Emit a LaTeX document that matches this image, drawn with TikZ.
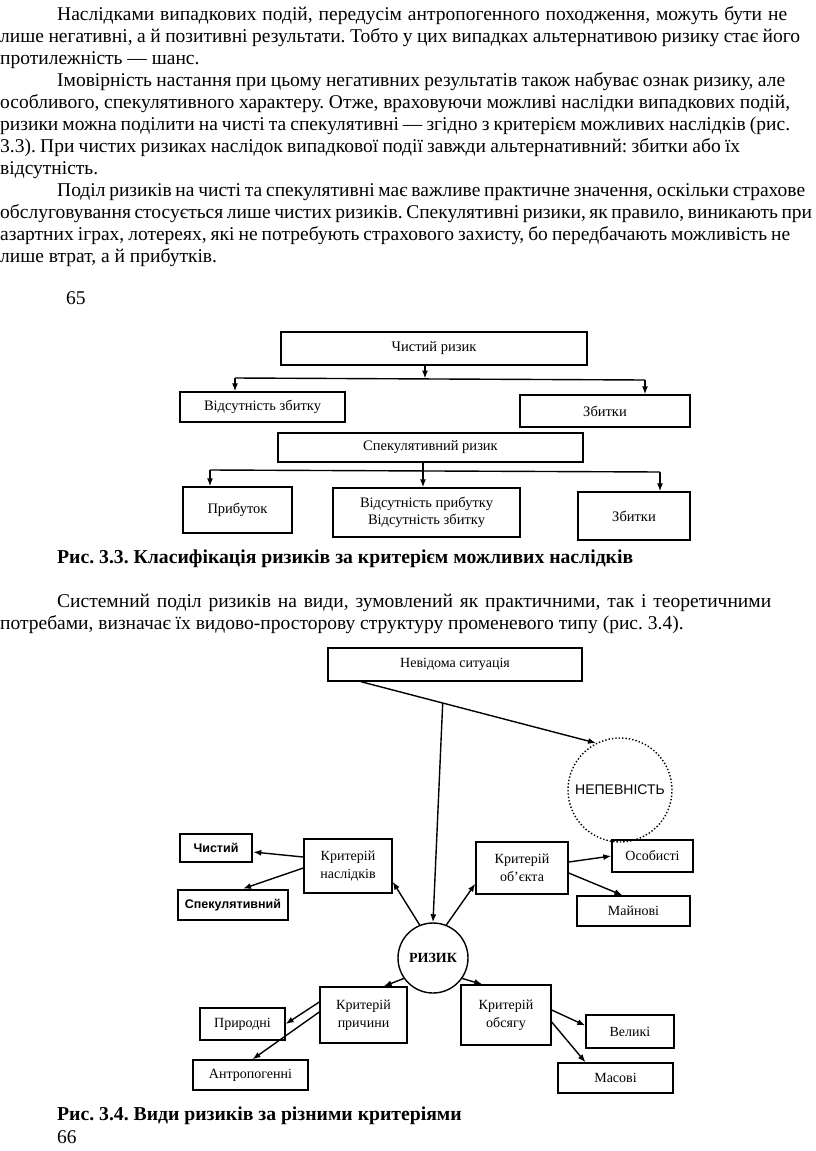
\documentclass[tikz,border=0pt]{standalone}
\usepackage{fontspec}
\setmainfont{Liberation Serif}
\newfontfamily\sansf{Liberation Sans}
\usetikzlibrary{arrows.meta,calc}
\frenchspacing
\newcommand\jline[4]{\node[body] (#1) at (#2) {\makebox[#3pt][s]{#4}};}
\newcommand\nline[3]{\node[body] (#1) at (#2) {#3};}
\begin{document}
\begin{tikzpicture}[x=1pt,y=-1pt,
  body/.style={anchor=base west, inner sep=0pt, font=\fontsize{19.5}{22}\selectfont},
  bodyb/.style={anchor=base west, inner sep=0pt, font=\fontsize{19.7}{22}\selectfont\bfseries},
  boxa/.style={draw, line width=1.4pt, inner sep=0pt, align=center, font=\fontsize{14.5}{17}\selectfont},
  boxb/.style={draw, line width=1.4pt, inner sep=0pt, align=center, font=\fontsize{14}{17.5}\selectfont},
  boxc/.style={draw, line width=2.6pt, inner sep=0pt, font=\sansf\bfseries\fontsize{12.5}{14}\selectfont},
  arr/.style={-{Latex[length=8pt,width=6pt]}, line width=1.4pt},
  ln/.style={line width=1.4pt}]
\useasboundingbox (0,0) rectangle (816,1151);

% ---- text ----
\jline{l1}{57,20}{730}{Наслідками випадкових подій, передусім антропогенного походження, можуть бути не}
\jline{l2}{0,42}{800}{лише негативні, а й позитивні результати. Тобто у цих випадках альтернативою ризику стає його}
\nline{l3}{0,64}{протилежність — шанс.}
\jline{l4}{57,86}{728}{Імовірність настання при цьому негативних результатів також набуває ознак ризику, але}
\jline{l5}{0,108}{790}{особливого, спекулятивного характеру. Отже, враховуючи можливі наслідки випадкових подій,}
\jline{l6}{0,130}{790}{ризики можна поділити на чисті та спекулятивні — згідно з критерієм можливих наслідків (рис.}
\jline{l7}{0,152}{740}{3.3). При чистих ризиках наслідок випадкової події завжди альтернативний: збитки або їх}
\nline{l8}{0,174}{відсутність.}
\jline{l9}{57,196}{748}{Поділ ризиків на чисті та спекулятивні має важливе практичне значення, оскільки страхове}
\jline{l10}{0,218}{812}{обслуговування стосується лише чистих ризиків. Спекулятивні ризики, як правило, виникають при}
\jline{l11}{0,240}{790}{азартних іграх, лотереях, які не потребують страхового захисту, бо передбачають можливість не}
\nline{l12}{0,262}{лише втрат, а й прибутків.}
\nline{p65}{66,304}{65}

% ---- fig 3.3 ----
\node[boxa, minimum width=306pt, minimum height=33pt] (ch) at (434,348.5) {Чистий ризик};
\node[boxa, minimum width=165pt, minimum height=30pt] (vz) at (262.5,407) {Відсутність збитку};
\node[boxa, minimum width=170pt, minimum height=32pt] (zb1) at (605,411) {Збитки};
\node[boxa, minimum width=305pt, minimum height=29pt] (sp) at (430.5,447.5) {Спекулятивний ризик};
\node[boxa, minimum width=109pt, minimum height=46pt] (pr) at (237.5,510) {Прибуток};
\node[boxa, minimum width=187pt, minimum height=49pt] (mid) at (426.5,512.5) {Відсутність прибутку\\Відсутність збитку};
\node[boxa, minimum width=112pt, minimum height=48pt] (zb2) at (634,516) {Збитки};

\coordinate (b1) at (425,378.5);
\coordinate (b1l) at (235,378);
\coordinate (b1r) at (645,380);
\draw[arr] (b1 |- ch.south) -- (b1);
\draw[ln] (b1l) -- (b1r);
\draw[arr] (b1l) -- (b1l |- vz.north);
\draw[arr] (b1r) -- (b1r |- zb1.north);

\coordinate (b2) at (423,471);
\coordinate (b2l) at (210,470);
\coordinate (b2r) at (660,472);
\draw[arr] (b2 |- sp.south) -- (b2 |- mid.north);
\draw[ln] (b2l) -- (b2r);
\draw[arr] (b2l) -- (b2l |- pr.north);
\draw[arr] (b2r) -- (b2r |- zb2.north);

\node[bodyb] (cap1) at (57,563) {Рис. 3.3. Класифікація ризиків за критерієм можливих наслідків};
\jline{q1}{57,607}{714}{Системний поділ ризиків на види, зумовлений як практичними, так і теоретичними}
\nline{q2}{0,629}{потребами, визначає їх видово-просторову структуру променевого типу (рис. 3.4).}

% ---- fig 3.4 ----
\node[boxb, minimum width=254pt, minimum height=33pt] (nev) at (455,664.5) {Невідома ситуація};
\node[circle, draw, dotted, line width=1.4pt, minimum size=104pt, inner sep=0pt, font=\sansf\fontsize{14}{16}\selectfont] (nep) at (620,790) {НЕПЕВНІСТЬ};
\node[circle, draw, line width=1.4pt, minimum size=70pt, inner sep=0pt, font=\bfseries\fontsize{14}{16}\selectfont] (ryz) at (433,958) {РИЗИК};

\node[boxb, minimum width=88pt, minimum height=54pt] (kn) at (348,866) {Критерій\\наслідків};
\node[boxc, minimum width=72pt, minimum height=28pt] (chy) at (216,848) {Чистий};
\node[boxc, minimum width=110pt, minimum height=30pt] (spk) at (233,905) {Спекулятивний};
\node[boxb, minimum width=92pt, minimum height=52pt] (ko) at (522,868) {Критерій\\об’єкта};
\node[boxb, minimum width=81pt, minimum height=32pt] (os) at (652.5,856) {Особисті};
\node[boxb, minimum width=113pt, minimum height=30pt] (mn) at (633.5,911) {Майнові};
\node[boxb, minimum width=87pt, minimum height=56pt] (kp) at (363.5,1015) {Критерій\\причини};
\node[boxb, minimum width=85pt, minimum height=32pt] (pd) at (242.5,1024) {Природні};
\node[boxb, minimum width=115pt, minimum height=30pt] (an) at (250.5,1075) {Антропогенні};
\node[boxb, minimum width=90pt, minimum height=60pt] (kob) at (506,1015) {Критерій\\обсягу};
\node[boxb, minimum width=88pt, minimum height=33pt] (vl) at (630,1031.5) {Великі};
\node[boxb, minimum width=115pt, minimum height=30pt] (ms) at (615.5,1078) {Масові};

\coordinate (d0) at ([xshift=-94pt]nev.south);
\draw[arr] (d0) -- (nep.117);
\coordinate (vj) at ($(d0)!0.3476!(nep.117)$);
\draw[arr] (vj) -- (ryz.north);

\draw[arr] (ryz.112) -- ([yshift=12pt]kn.south east);
\draw[arr] (ryz.68) -- ([yshift=11pt]ko.south west);
\draw[arr] (ryz.215) -- ([xshift=-24pt]kp.north east);
\draw[arr] (ryz.-35) -- ([xshift=22pt]kob.north west);

\draw[arr] ([yshift=9pt]kn.west) -- ([yshift=-4pt]chy.east);
\draw[arr] ([yshift=-2pt]kn.west) -- ([xshift=10pt]spk.north);
\draw[arr] ([yshift=6pt]ko.east) -- (os.west);
\draw[arr] ([yshift=-5pt]ko.east) -- ([xshift=-11pt]mn.north);
\draw[arr] ([yshift=13pt]kp.west) -- (pd.east);
\draw[arr] ([yshift=3pt]kp.west) -- ([xshift=2pt]an.north);
\draw[arr] ([yshift=5pt]kob.east) -- ([yshift=6pt]vl.west);
\draw[arr] ([yshift=-7pt]kob.east) -- ([xshift=-30pt]ms.north);

\node[bodyb] (cap2) at (57,1120) {Рис. 3.4. Види ризиків за різними критеріями};
\nline{p66}{57,1143}{66}
\end{tikzpicture}
\end{document}
